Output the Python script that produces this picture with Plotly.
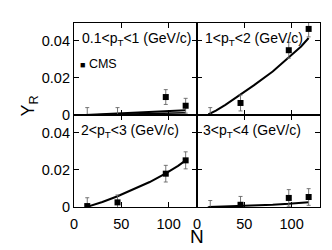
import plotly.graph_objects as go
from plotly.subplots import make_subplots

# CMS data: N values, Y_R values and errors per pT bin
N_cms = [14, 46, 97, 118]
y_p1 = [-0.0015, -0.0015, 0.0097, 0.0050]
e_p1 = [0.0055, 0.0055, 0.0040, 0.0040]
y_p2 = [-0.0015, 0.0065, 0.0350, 0.0465]
e_p2 = [0.0055, 0.0043, 0.0043, 0.0043]
y_p3 = [0.0005, 0.0025, 0.0180, 0.0252]
e_p3 = [0.0045, 0.0040, 0.0045, 0.0046]
y_p4 = [-0.0015, 0.0012, 0.0049, 0.0054]
e_p4 = [0.0050, 0.0045, 0.0045, 0.0045]

# Model curves
N_model = [12, 20, 30, 46, 60, 80, 97, 110, 118]
m_p1a = [0, 0.0002, 0.0004, 0.0007, 0.0010, 0.0014, 0.0018, 0.0022, 0.0025]
m_p1b = [0, 0.0001, 0.0002, 0.0004, 0.0005, 0.0007, 0.0009, 0.0011, 0.0012]
m_p2 = [0.0003, 0.0024, 0.0055, 0.0110, 0.0160, 0.0235, 0.0310, 0.0370, 0.0416]
m_p3 = [-0.0002, 0.0010, 0.0027, 0.0058, 0.0088, 0.0135, 0.0182, 0.0222, 0.0252]
m_p4 = [0, 0.0001, 0.0002, 0.0004, 0.0007, 0.0012, 0.0017, 0.0022, 0.0026]

labels = ["0.1<p<sub>T</sub><1 (GeV/c)", "1<p<sub>T</sub><2 (GeV/c)",
          "2<p<sub>T</sub><3 (GeV/c)", "3<p<sub>T</sub><4 (GeV/c)"]
legend_label = "CMS"

x_ticks = [0, 50, 100]
y_ticks = [0, 0.02, 0.04]

FONT = "Liberation Sans, Arial, Helvetica, sans-serif"

fig = make_subplots(rows=2, cols=2, horizontal_spacing=0, vertical_spacing=0)

panels = [
    (1, 1, y_p1, e_p1, [m_p1a, m_p1b]),
    (1, 2, y_p2, e_p2, [m_p2]),
    (2, 1, y_p3, e_p3, [m_p3]),
    (2, 2, y_p4, e_p4, [m_p4]),
]

for i, (r, c, yv, ev, models) in enumerate(panels):
    for j, m in enumerate(models):
        fig.add_trace(go.Scatter(x=N_model, y=m, mode="lines",
                                 line=dict(color="black", width=2 if j == 0 else 1.5),
                                 showlegend=False), row=r, col=c)
    fig.add_trace(go.Scatter(x=N_cms, y=yv, mode="markers", name=legend_label,
                             marker=dict(symbol="square", size=6, color="black"),
                             error_y=dict(type="data", array=ev, color="#666666",
                                          thickness=0.9, width=2),
                             showlegend=False), row=r, col=c)

axis_common = dict(showline=True, linecolor="black", linewidth=1.2,
                   mirror="ticks", ticks="inside", ticklen=5, tickwidth=1.2,
                   tickcolor="black", showgrid=False, zeroline=False,
                   tickfont=dict(family=FONT, size=14.5, color="black"))

for r in (1, 2):
    for c in (1, 2):
        fig.update_xaxes(**axis_common, row=r, col=c)
        fig.update_yaxes(**axis_common, row=r, col=c)
        fig.update_xaxes(range=[0, 130], tickvals=x_ticks, ticklabelstandoff=3,
                         showticklabels=(r == 2), row=r, col=c)
        fig.update_yaxes(range=[0, 0.0497], tickvals=y_ticks,
                         showticklabels=(c == 1), row=r, col=c)

# Panel labels
xrefs = [("x domain", "y domain"), ("x2 domain", "y2 domain"),
         ("x3 domain", "y3 domain"), ("x4 domain", "y4 domain")]
xpos = [0.05, 0.045, 0.04, 0.03]
for k, lab in enumerate(labels):
    fig.add_annotation(text=lab, xref=xrefs[k][0], yref=xrefs[k][1],
                       x=xpos[k], y=0.95, xanchor="left", yanchor="top",
                       showarrow=False,
                       font=dict(family=FONT, size=14, color="black"))

# Legend key (compact, as in the original figure)
fig.add_annotation(text="<span style='font-size:9px'>■</span> " + legend_label,
                   xref="x domain", yref="y domain", x=0.03, y=0.555,
                   xanchor="left", yanchor="middle", showarrow=False,
                   font=dict(family=FONT, size=12.5, color="black"))

# Axis titles
fig.add_annotation(text="Y<sub>R</sub>", xref="paper", yref="paper",
                   x=-0.18, y=0.55, textangle=-90, showarrow=False,
                   xanchor="center", yanchor="middle",
                   font=dict(family=FONT, size=18, color="black"))
fig.add_annotation(text="N", xref="paper", yref="paper",
                   x=0.502, y=-0.16, showarrow=False,
                   xanchor="center", yanchor="middle",
                   font=dict(family=FONT, size=19, color="black"))

fig.update_layout(
    width=332, height=250,
    margin=dict(l=66, r=20, t=15, b=51),
    paper_bgcolor="white", plot_bgcolor="white",
    showlegend=False,
)

fig.write_html("out.html")
